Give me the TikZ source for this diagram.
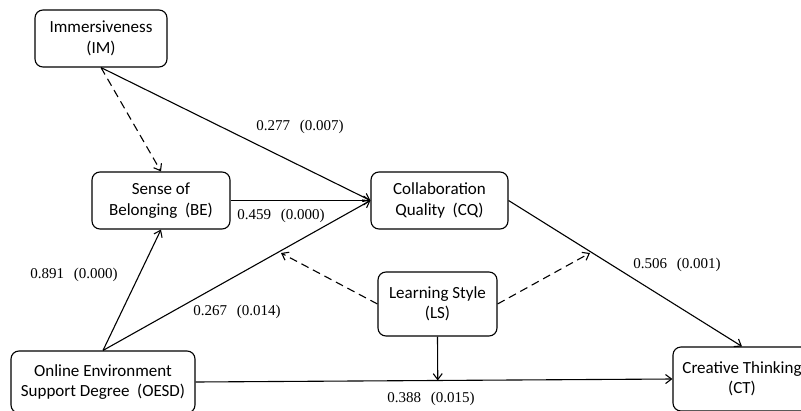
\documentclass[tikz,border=0pt]{standalone}
\usepackage{fontspec}
\setmainfont{Carlito}
\newfontfamily\numfont{Liberation Serif}
\usetikzlibrary{arrows.meta}
\usetikzlibrary{calc}

\tikzset{
  varbox/.style={draw, line width=1.1pt, rounded corners=8pt, align=center, inner sep=0pt,
    font=\fontsize{17}{20.5}\selectfont},
  link/.style={-{Straight Barb[length=6pt,width=9pt]}, line width=1.1pt},
  modlink/.style={link, dash pattern=on 8pt off 5pt},
  coef/.style={font=\numfont\fontsize{15}{16}\selectfont}
}

\begin{document}
\begin{tikzpicture}[x=1pt,y=-1pt]
\useasboundingbox (0,0) rectangle (801,410);
\clip (0,0) rectangle (801,410);

\node[varbox, minimum width=132pt, minimum height=57pt] (IM) at (101,38.5) {Immersiveness\\(IM)};
\node[varbox, minimum width=138pt, minimum height=57pt] (BE) at (161,200.5) {Sense of\\Belonging\hspace{0.45em}(BE)};
\node[varbox, minimum width=137pt, minimum height=57pt] (CQ) at (439.5,200.5) {Collaboration\\Quality\hspace{0.45em}(CQ)};
\node[varbox, minimum width=119pt, minimum height=64pt] (LS) at (437.5,304) {Learning Style\\(LS)};
\node[varbox, minimum width=184pt, minimum height=62pt] (OESD) at (103,382) {Online Environment\\Support Degree\hspace{0.45em}(OESD)};
\node[varbox, minimum width=138pt, minimum height=64pt] (CT) at (742,379) {Creative Thinking\\(CT)};

\coordinate (m1) at (281,253);
\coordinate (m2) at (590,253);

\draw[modlink] (IM.south) -- (BE.north);
\draw[link] (IM.south) -- (CQ.west);
\draw[link] (BE.east) -- (CQ.west);
\draw[link] (OESD.north) -- (BE.south);
\draw[link] (OESD.north) -- (CQ.west);
\draw[link] (CQ.east) -- (CT.north);
\draw[link] (OESD.east) -- (CT.west);
\draw[link] (LS.south) -- ($(OESD.east)!(LS.south)!(CT.west)$);
\draw[modlink] (LS.west) -- (m1);
\draw[modlink] (LS.east) -- (m2);

\node[coef] (cIMCQ) at (300,127) {0.277\hspace{0.65em}(0.007)};
\node[coef] (cBECQ) at (281,216) {0.459\hspace{0.65em}(0.000)};
\node[coef] (cOEBE) at (74,275) {0.891\hspace{0.65em}(0.000)};
\node[coef] (cOECQ) at (237,312) {0.267\hspace{0.65em}(0.014)};
\node[coef] (cCQCT) at (677,265) {0.506\hspace{0.65em}(0.001)};
\node[coef] (cOECT) at (431,399) {0.388\hspace{0.65em}(0.015)};

\end{tikzpicture}
\end{document}
